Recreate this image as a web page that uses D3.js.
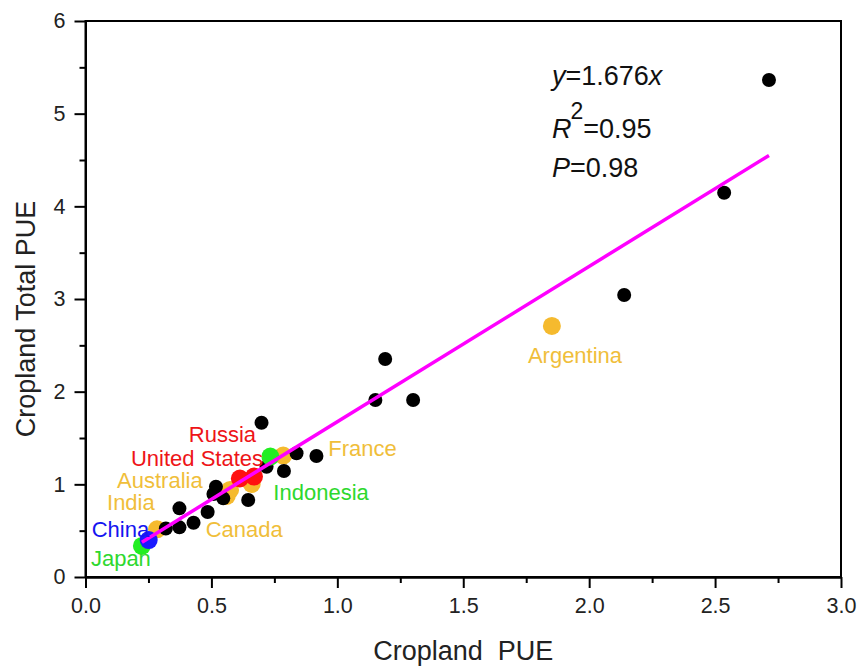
<!DOCTYPE html>
<html>
<head>
<meta charset="utf-8">
<script src="https://cdn.jsdelivr.net/npm/d3@7"></script>
<style>
  html, body { margin: 0; padding: 0; background: #fff; }
  svg { display: block; font-family: "Liberation Sans", Arial, sans-serif; }
</style>
</head>
<body>
<svg id="chart" width="860" height="671"></svg>
<script>
// ---- data ----
const xTicks = [0.0, 0.5, 1.0, 1.5, 2.0, 2.5, 3.0];
const yTicks = [0, 1, 2, 3, 4, 5, 6];
const xLabel = "Cropland  PUE";
const yLabel = "Cropland Total PUE";

// other countries (black)
const otherX = [2.714, 2.536, 2.139, 1.190, 1.151, 1.301, 0.699, 0.838, 0.917, 0.719, 0.788,
                0.518, 0.508, 0.547, 0.646, 0.485, 0.373, 0.373, 0.429, 0.319];
const otherY = [5.363, 4.147, 3.043, 2.352, 1.910, 1.910, 1.665, 1.335, 1.306, 1.190, 1.144,
                0.974, 0.896, 0.849, 0.831, 0.701, 0.741, 0.536, 0.586, 0.523];

// highlighted countries
const countryNames = ["", "Argentina", "France", "Canada", "Australia", "India",
                      "Indonesia", "Japan", "United States", "Russia", "China"];
const countryGroup = ["orange", "orange", "orange", "orange", "orange", "orange",
                      "green", "green", "red", "red", "blue"];
const countryX = [0.561, 1.852, 0.785, 0.660, 0.574, 0.284, 0.734, 0.224, 0.669, 0.613, 0.251];
const countryY = [0.874, 2.709, 1.311, 1.004, 0.939, 0.515, 1.300, 0.335, 1.084, 1.063, 0.399];

const slope = 1.676;
const statLines = ["y=1.676x", "R2=0.95", "P=0.98"];

// ---- styles / layout ----
const groupColor = { orange: "#F5BA2E", green: "#22EE22", red: "#FF1010", blue: "#1A1AFF" };
const textColor  = { orange: "#F0BE3A", green: "#2ED82E", red: "#EE1418", blue: "#1515F0" };
// label offsets (px) relative to each country point: [dx, dy] for text start/baseline
const labelOffset = {
  "Argentina": [-24, 37], "Indonesia": [3, 43], "France": [45, 0], "Russia": [-51, -36],
  "United States": [-123, -11], "Australia": [-113, -2], "India": [-50, -19],
  "China": [-57, -3], "Canada": [-46, 53], "Japan": [-51, 20]
};

const L = 85.5, R = 841, T = 21, B = 577;
const svg = d3.select("#chart");
const x = d3.scaleLinear().domain([0, 3]).range([L, R]);
const y = d3.scaleLinear().domain([0, 6]).range([B, T]);

// frame
svg.append("rect").attr("x", L).attr("y", T).attr("width", R - L).attr("height", B - T)
  .attr("fill", "none").attr("stroke", "#000").attr("stroke-width", 2);

// axes
const xAxis = svg.append("g").attr("transform", `translate(0,${B})`)
  .call(d3.axisBottom(x).tickValues(xTicks).tickFormat(d3.format(".1f")).tickSizeOuter(0).tickSizeInner(11).tickPadding(10));
const xMinor = svg.append("g").attr("transform", `translate(0,${B})`)
  .call(d3.axisBottom(x).tickValues(d3.range(0.25, 3, 0.5)).tickFormat("").tickSizeOuter(0).tickSizeInner(6));
const yAxis = svg.append("g").attr("transform", `translate(${L},0)`)
  .call(d3.axisLeft(y).tickValues(yTicks).tickFormat(d3.format("d")).tickSizeOuter(0).tickSizeInner(11).tickPadding(9));
const yMinor = svg.append("g").attr("transform", `translate(${L},0)`)
  .call(d3.axisLeft(y).tickValues(d3.range(0.5, 6, 1)).tickFormat("").tickSizeOuter(0).tickSizeInner(6));
[xAxis, xMinor, yAxis, yMinor].forEach(g => {
  g.select(".domain").attr("stroke", "#000").attr("stroke-width", 2);
  g.selectAll(".tick line").attr("stroke", "#000").attr("stroke-width", 2);
  g.selectAll(".tick text").attr("fill", "#222").style("font-size", "21.5px")
    .style("font-family", '"Liberation Sans", Arial, sans-serif');
});

// axis titles
svg.append("text").attr("x", (L + R) / 2).attr("y", 660).attr("text-anchor", "middle")
  .style("font-size", "27px").attr("fill", "#222").style("white-space", "pre").text(xLabel);
svg.append("text").attr("transform", "translate(35,319) rotate(-90)").attr("text-anchor", "middle")
  .style("font-size", "27px").attr("fill", "#222").text(yLabel);

// points
const countries = countryNames.map((n, i) => ({ name: n, g: countryGroup[i], x: countryX[i], y: countryY[i] }));
const others = otherX.map((v, i) => ({ x: v, y: otherY[i] }));
const order = ["orange", "black", "green", "red", "blue"];
order.forEach(g => {
  if (g === "black") {
    svg.append("g").selectAll("circle").data(others).join("circle")
      .attr("cx", d => x(d.x)).attr("cy", d => y(d.y)).attr("r", 7).attr("fill", "#000");
  } else {
    svg.append("g").selectAll("circle").data(countries.filter(d => d.g === g)).join("circle")
      .attr("cx", d => x(d.x)).attr("cy", d => y(d.y)).attr("r", 9).attr("fill", groupColor[g]);
  }
});

// fit line
const allX = otherX.concat(countryX);
const xr = d3.extent(allX);
svg.append("line")
  .attr("x1", x(xr[0])).attr("y1", y(slope * xr[0]))
  .attr("x2", x(xr[1])).attr("y2", y(slope * xr[1]))
  .attr("stroke", "#FF00FF").attr("stroke-width", 3.5);

// country labels
svg.append("g").selectAll("text").data(countries.filter(d => d.name)).join("text")
  .attr("x", d => x(d.x) + labelOffset[d.name][0])
  .attr("y", d => y(d.y) + labelOffset[d.name][1])
  .attr("fill", d => textColor[d.g])
  .style("font-size", "22px")
  .text(d => d.name);

// stats text
const sx = 552, fs = "27px";
const t1 = svg.append("text").attr("x", sx).attr("y", 85).style("font-size", fs).attr("fill", "#111");
t1.append("tspan").style("font-style", "italic").text(statLines[0].slice(0, 1));
t1.append("tspan").text(statLines[0].slice(1, -1));
t1.append("tspan").style("font-style", "italic").text(statLines[0].slice(-1));
const t2 = svg.append("text").attr("x", sx).attr("y", 138).style("font-size", fs).attr("fill", "#111");
t2.append("tspan").style("font-style", "italic").text(statLines[1].slice(0, 1));
t2.append("tspan").attr("dy", -19).attr("dx", -1).style("font-size", "23px").text(statLines[1].slice(1, 2));
t2.append("tspan").attr("dy", 19).text(statLines[1].slice(2));
const t3 = svg.append("text").attr("x", sx).attr("y", 177).style("font-size", fs).attr("fill", "#111");
t3.append("tspan").style("font-style", "italic").text(statLines[2].slice(0, 1));
t3.append("tspan").text(statLines[2].slice(1));
</script>
</body>
</html>
